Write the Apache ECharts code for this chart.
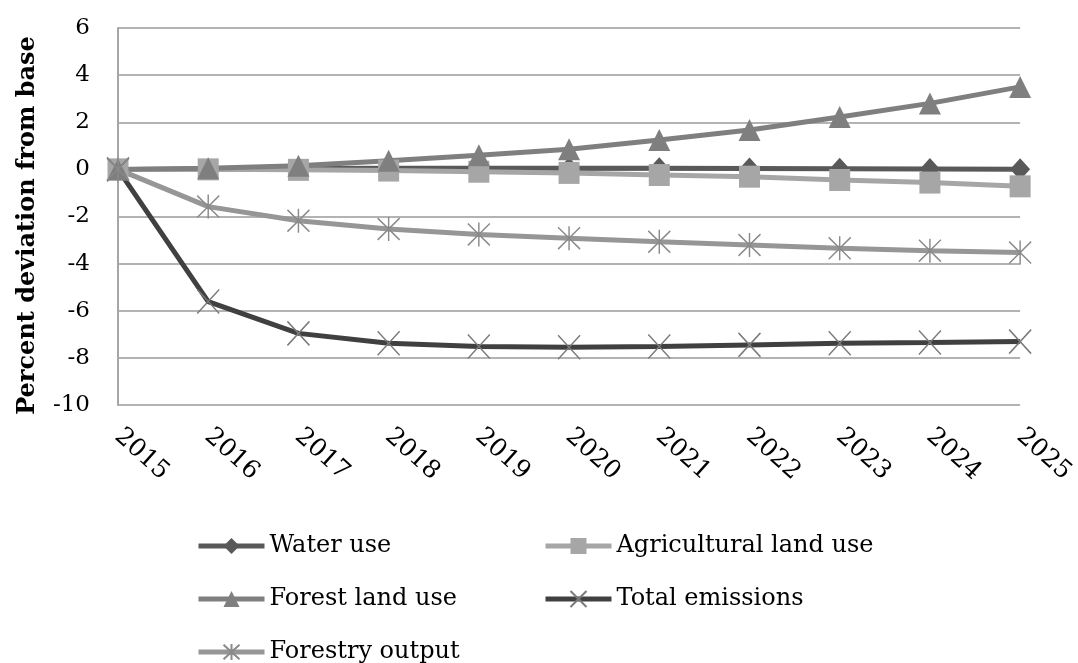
<!DOCTYPE html>
<html><head><meta charset="utf-8">
<script src="https://cdn.jsdelivr.net/npm/echarts@6/dist/echarts.min.js"></script>
<style>html,body{margin:0;padding:0;background:#fff}#c{width:1078px;height:663px}</style>
</head><body><div id="c"></div>
<script>
const years = ['2015','2016','2017','2018','2019','2020','2021','2022','2023','2024','2025'];
const waterUse = [0, 0.02, 0.04, 0.05, 0.05, 0.05, 0.05, 0.04, 0.03, 0.02, 0.01];
const agriLandUse = [0, 0.0, -0.02, -0.05, -0.1, -0.15, -0.24, -0.31, -0.45, -0.56, -0.72];
const forestLandUse = [0, 0.05, 0.15, 0.37, 0.6, 0.85, 1.25, 1.67, 2.22, 2.8, 3.5];
const totalEmissions = [0, -5.61, -6.96, -7.38, -7.52, -7.55, -7.52, -7.45, -7.38, -7.35, -7.31];
const forestryOutput = [0, -1.58, -2.18, -2.53, -2.76, -2.92, -3.07, -3.21, -3.35, -3.45, -3.53];
const yTicks = {min: -10, max: 6, interval: 2};

const FONT = 'DejaVu Serif';
const crossPath = 'path://M0,0L20,22M20,0L0,22';
const starPath = 'path://M10,0L10,22M1,1L19,21M19,1L1,21';

function mk(name, data, lineColor, symbol, symColor, size, stroke) {
  return {
    name, type: 'line', data,
    symbol, symbolSize: size,
    lineStyle: {color: lineColor, width: 5},
    itemStyle: stroke ? {color: 'rgba(0,0,0,0)', borderColor: symColor, borderWidth: 1.5} : {color: symColor},
    emphasis: {disabled: true},
    z: 2
  };
}

const series = [
  mk('Water use', waterUse, '#595959', 'diamond', '#595959', [20, 22], false),
  mk('Agricultural land use', agriLandUse, '#a6a6a6', 'rect', '#a6a6a6', [21, 22], false),
  mk('Forest land use', forestLandUse, '#7f7f7f', 'triangle', '#7f7f7f', [22, 22], false),
  mk('Total emissions', totalEmissions, '#404040', crossPath, '#7a7a7a', [22, 24], true),
  mk('Forestry output', forestryOutput, '#969696', starPath, '#8a8a8a', [22, 24], true)
];

function lg(name, left, top) {
  return {
    data: [name], left, top, orient: 'horizontal', padding: 0,
    itemWidth: 66, itemHeight: 20, itemGap: 4,
    lineStyle: {width: 5},
    textStyle: {fontFamily: FONT, fontSize: 24, color: '#000'},
    selectedMode: false
  };
}

const chart = echarts.init(document.getElementById('c'));
chart.setOption({
  animation: false,
  backgroundColor: '#fff',
  grid: {left: 118, right: 56, top: 28, bottom: 258},
  legend: [
    lg('Water use', 196, 534),
    lg('Agricultural land use', 543, 534),
    lg('Forest land use', 196, 587),
    lg('Total emissions', 543, 587),
    lg('Forestry output', 196, 640)
  ],
  xAxis: {
    type: 'category', data: years, boundaryGap: false,
    axisLine: {onZero: false, show: false},
    axisTick: {show: false},
    axisLabel: {rotate: -42, fontFamily: FONT, fontSize: 25, color: '#000', margin: 28},
    splitLine: {show: false}
  },
  yAxis: {
    type: 'value', min: yTicks.min, max: yTicks.max, interval: yTicks.interval,
    name: 'Percent deviation from base', nameLocation: 'middle', nameGap: 78,
    nameTextStyle: {fontFamily: FONT, fontSize: 24, fontWeight: 'bold', color: '#000', padding: [0, 0, 0, -18]},
    axisLine: {show: true, lineStyle: {color: '#a6a6a6', width: 2}},
    axisTick: {show: false},
    axisLabel: {fontFamily: FONT, fontSize: 23, color: '#000', margin: 28},
    splitLine: {show: true, lineStyle: {color: '#b3b3b3', width: 2}}
  },
  series
});
</script></body></html>
